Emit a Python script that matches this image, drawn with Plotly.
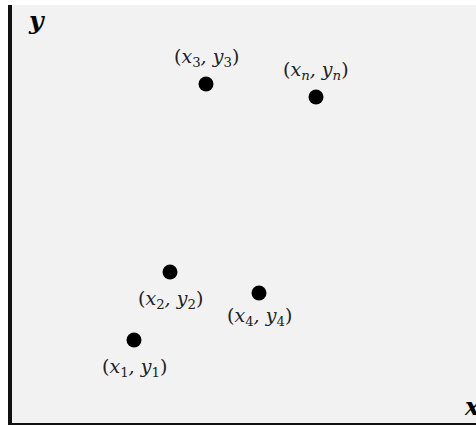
import plotly.graph_objects as go

# data (units, origin at the axes corner)
point_ids = ["1", "2", "3", "4", "n"]
x_vals = [122, 158, 194, 247, 304]
y_vals = [83, 151, 339, 130, 326]
label_dy = [-27, -27, 27, -23, 27]

labels = [f"(<i>x</i><sub>{i}</sub><i>, y</i><sub>{i}</sub>)" if i != "n"
          else "(<i>x<sub>n</sub>, y<sub>n</sub></i>)" for i in point_ids]

fig = go.Figure()
fig.add_trace(go.Scatter(
    x=x_vals, y=y_vals, mode="markers",
    marker=dict(size=15, color="black", symbol="circle"),
    cliponaxis=False,
))

for xv, yv, lab, dy in zip(x_vals, y_vals, labels, label_dy):
    fig.add_annotation(x=xv, y=yv, text=lab, showarrow=False, yshift=dy,
                       xanchor="center", yanchor="middle",
                       font=dict(family="DejaVu Serif", size=19, color="#222"))

fig.add_annotation(x=0, y=1, xref="paper", yref="paper", text="<b><i>y</i></b>",
                   showarrow=False, xanchor="left", yanchor="top", xshift=14, yshift=1,
                   font=dict(family="DejaVu Serif", size=25, color="black"))
fig.add_annotation(x=1, y=0, xref="paper", yref="paper", text="<b><i>x</i></b>",
                   showarrow=False, xanchor="left", yanchor="bottom", xshift=-14, yshift=0,
                   font=dict(family="DejaVu Serif", size=24, color="black"))

fig.update_layout(
    width=476, height=426,
    margin=dict(l=12, r=0, t=5, b=3),
    paper_bgcolor="white", plot_bgcolor="#f2f2f2",
    showlegend=False,
    xaxis=dict(range=[0, 464], showgrid=False, zeroline=False, showticklabels=False,
               ticks="", showline=True, linecolor="#111", linewidth=2, fixedrange=True),
    yaxis=dict(range=[0, 418], showgrid=False, zeroline=False, showticklabels=False,
               ticks="", showline=True, linecolor="#111", linewidth=4, fixedrange=True),
)

fig.write_html("out.html", config={"displayModeBar": False},
               post_script="document.body.style.margin='0px';document.body.style.overflow='hidden';")
